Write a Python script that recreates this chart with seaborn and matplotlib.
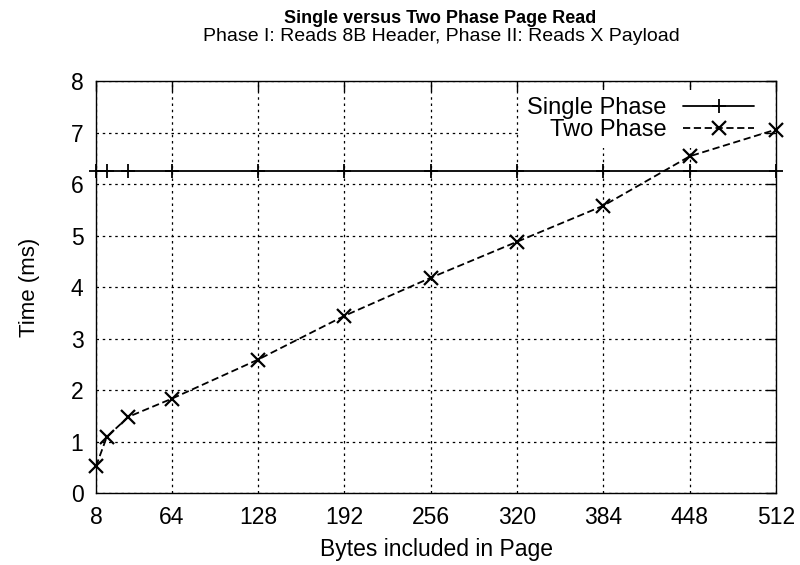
import seaborn as sns
import pandas as pd
import matplotlib.pyplot as plt

# bytes in page
page_bytes = [8, 16, 32, 64, 128, 192, 256, 320, 384, 448, 512]
single_phase = [6.25, 6.25, 6.25, 6.25, 6.25, 6.25, 6.25, 6.25, 6.25, 6.25, 6.25]
two_phase = [0.52, 1.09, 1.48, 1.83, 2.59, 3.44, 4.18, 4.88, 5.58, 6.54, 7.06]
x_ticks = [8, 64, 128, 192, 256, 320, 384, 448, 512]

sns.set_style("white")
plt.rcParams['font.family'] = ['Liberation Sans', 'DejaVu Sans']
plt.rcParams['text.color'] = 'black'
plt.rcParams['axes.labelcolor'] = 'black'

df_single = pd.DataFrame({'Bytes': page_bytes, 'Time': single_phase})
df_two = pd.DataFrame({'Bytes': page_bytes, 'Time': two_phase})

fig = plt.figure(figsize=(8, 5.65), dpi=100)
ax = fig.add_axes([0.12, 0.1274, 0.85, 0.729])

sns.lineplot(data=df_single, x='Bytes', y='Time', ax=ax, color='black',
             marker='+', markersize=10, markeredgewidth=1.3,
             markeredgecolor='black', linewidth=1.3, clip_on=False,
             label='Single Phase')
sns.lineplot(data=df_two, x='Bytes', y='Time', ax=ax, color='black',
             marker='x', markersize=10, markeredgewidth=1.6,
             markeredgecolor='black', linewidth=1.3,
             linestyle=(0, (4, 2)), clip_on=False, label='Two Phase')

ax.set_xlim(8, 512)
ax.set_ylim(0, 8)
ax.set_xticks(x_ticks)
ax.set_yticks(range(0, 9))
ax.grid(True, color='black', linestyle=(0, (2, 3)), linewidth=0.9)
ax.tick_params(direction='in', length=7, width=1, top=True, right=True,
               labelsize=16.5, pad=9, colors='black')
for sp in ax.spines.values():
    sp.set_color('black')
    sp.set_linewidth(1)

ax.set_xlabel('Bytes included in Page', fontsize=16.5, labelpad=7)
ax.set_ylabel('Time (ms)', fontsize=16, labelpad=22)

leg = ax.legend(loc='upper right', bbox_to_anchor=(0.978, 0.978),
                markerfirst=False, frameon=True, fontsize=17,
                handlelength=3.0, borderaxespad=0.0, borderpad=0.3,
                labelspacing=0.0, handletextpad=0.7)
leg.get_frame().set_edgecolor('none')
leg.get_frame().set_facecolor('white')
leg.get_frame().set_alpha(1)
leg.set_zorder(1)

fig.text(0.55, 0.968, 'Single versus Two Phase Page Read', ha='center',
         va='center', fontsize=13, fontweight='bold')
fig.text(0.552, 0.935, 'Phase I: Reads 8B Header, Phase II: Reads X Payload',
         ha='center', va='center', fontsize=14)

fig.savefig('out.png', dpi=100)
